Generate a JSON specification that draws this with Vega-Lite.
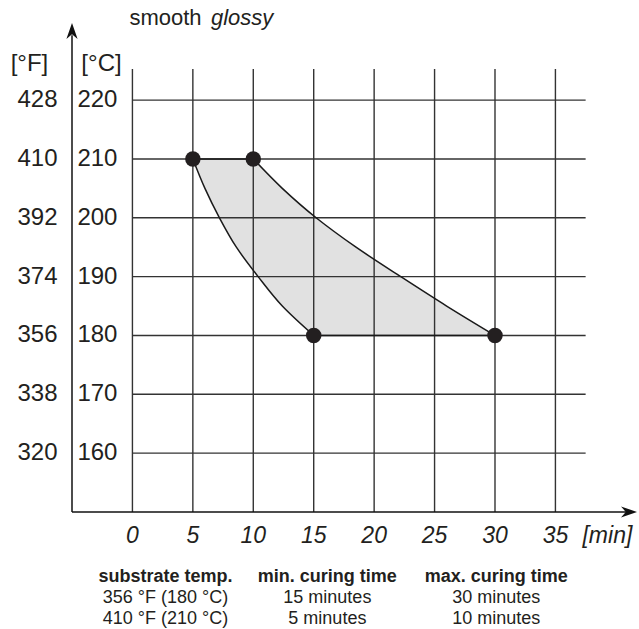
{
  "$schema": "https://vega.github.io/schema/vega-lite/v6.json",
  "width": 565,
  "height": 489,
  "autosize": {"type": "none"},
  "padding": {"left": 72, "top": 23, "right": 2, "bottom": 117},
  "background": "white",
  "config": {"view": {"stroke": null}, "font": "Liberation Sans", "text": {"font": "Liberation Sans", "color": "#231f20"}},
  "datasets": {
    "window": [
      {"temp": 210, "min_time": 5, "max_time": 10},
      {"temp": 205, "min_time": 6.0, "max_time": 12.4},
      {"temp": 200, "min_time": 7.2, "max_time": 15.2},
      {"temp": 195, "min_time": 8.6, "max_time": 18.5},
      {"temp": 190, "min_time": 10.4, "max_time": 22.2},
      {"temp": 185, "min_time": 12.4, "max_time": 26.0},
      {"temp": 180, "min_time": 15, "max_time": 30}
    ],
    "points": [
      {"minutes": 5, "temp": 210},
      {"minutes": 10, "temp": 210},
      {"minutes": 15, "temp": 180},
      {"minutes": 30, "temp": 180}
    ],
    "xticks": [
      {"minutes": 0}, {"minutes": 5}, {"minutes": 10}, {"minutes": 15},
      {"minutes": 20}, {"minutes": 25}, {"minutes": 30}, {"minutes": 35}
    ],
    "yticks": [
      {"celsius": 160, "fahrenheit": 320},
      {"celsius": 170, "fahrenheit": 338},
      {"celsius": 180, "fahrenheit": 356},
      {"celsius": 190, "fahrenheit": 374},
      {"celsius": 200, "fahrenheit": 392},
      {"celsius": 210, "fahrenheit": 410},
      {"celsius": 220, "fahrenheit": 428}
    ],
    "one": [{}]
  },
  "layer": [
    {
      "data": {"name": "window"},
      "mark": {"type": "area", "orient": "horizontal", "interpolate": "monotone", "fill": "#e1e1e1", "strokeWidth": 0},
      "encoding": {
        "y": {"field": "temp", "type": "quantitative", "scale": {"domain": [150, 233.1], "nice": false, "zero": false}, "axis": null},
        "x": {"field": "min_time", "type": "quantitative", "scale": {"domain": [-5, 41.75], "nice": false, "zero": false}, "axis": null},
        "x2": {"field": "max_time"}
      }
    },
    {
      "data": {"name": "xticks"},
      "mark": {"type": "rule", "stroke": "#333333", "strokeWidth": 1.4},
      "encoding": {
        "x": {"field": "minutes", "type": "quantitative", "scale": {"domain": [-5, 41.75], "nice": false, "zero": false}, "axis": null},
        "y": {"datum": 150, "type": "quantitative", "scale": {"domain": [150, 233.1], "nice": false, "zero": false}, "axis": null},
        "y2": {"datum": 225.3}
      }
    },
    {
      "data": {"name": "yticks"},
      "mark": {"type": "rule", "stroke": "#333333", "strokeWidth": 1.4},
      "encoding": {
        "y": {"field": "celsius", "type": "quantitative", "scale": {"domain": [150, 233.1], "nice": false, "zero": false}, "axis": null},
        "x": {"datum": 0, "type": "quantitative", "scale": {"domain": [-5, 41.75], "nice": false, "zero": false}, "axis": null},
        "x2": {"datum": 37.5}
      }
    },
    {
      "data": {"name": "window"},
      "mark": {"type": "area", "orient": "horizontal", "interpolate": "monotone", "fillOpacity": 0, "stroke": "#1a1a1a", "strokeWidth": 1.5},
      "encoding": {
        "y": {"field": "temp", "type": "quantitative", "scale": {"domain": [150, 233.1], "nice": false, "zero": false}, "axis": null},
        "x": {"field": "min_time", "type": "quantitative", "scale": {"domain": [-5, 41.75], "nice": false, "zero": false}, "axis": null},
        "x2": {"field": "max_time"}
      }
    },
    {
      "data": {"name": "one"},
      "mark": {"type": "rule", "stroke": "#111111", "strokeWidth": 1.5},
      "encoding": {
        "x": {"datum": -5, "type": "quantitative", "scale": {"domain": [-5, 41.75], "nice": false, "zero": false}, "axis": null},
        "y": {"datum": 150, "type": "quantitative", "scale": {"domain": [150, 233.1], "nice": false, "zero": false}, "axis": null},
        "y2": {"datum": 231}
      }
    },
    {
      "data": {"name": "one"},
      "mark": {"type": "rule", "stroke": "#111111", "strokeWidth": 1.5},
      "encoding": {
        "y": {"datum": 150, "type": "quantitative", "scale": {"domain": [150, 233.1], "nice": false, "zero": false}, "axis": null},
        "x": {"datum": -5, "type": "quantitative", "scale": {"domain": [-5, 41.75], "nice": false, "zero": false}, "axis": null},
        "x2": {"datum": 41}
      }
    },
    {
      "data": {"name": "one"},
      "mark": {"type": "point", "shape": "M0,0L-0.7,2L0,1.4L0.7,2Z", "filled": true, "size": 256, "color": "#111111", "opacity": 1},
      "encoding": {
        "x": {"datum": -5, "type": "quantitative", "scale": {"domain": [-5, 41.75], "nice": false, "zero": false}, "axis": null},
        "y": {"datum": 233.1, "type": "quantitative", "scale": {"domain": [150, 233.1], "nice": false, "zero": false}, "axis": null}
      }
    },
    {
      "data": {"name": "one"},
      "mark": {"type": "point", "shape": "M0,0L-0.7,2L0,1.4L0.7,2Z", "angle": 90, "filled": true, "size": 256, "color": "#111111", "opacity": 1},
      "encoding": {
        "x": {"datum": 41.75, "type": "quantitative", "scale": {"domain": [-5, 41.75], "nice": false, "zero": false}, "axis": null},
        "y": {"datum": 150, "type": "quantitative", "scale": {"domain": [150, 233.1], "nice": false, "zero": false}, "axis": null}
      }
    },
    {
      "data": {"name": "points"},
      "mark": {"type": "circle", "size": 240, "color": "#231f20", "opacity": 1},
      "encoding": {
        "x": {"field": "minutes", "type": "quantitative", "scale": {"domain": [-5, 41.75], "nice": false, "zero": false}, "axis": null},
        "y": {"field": "temp", "type": "quantitative", "scale": {"domain": [150, 233.1], "nice": false, "zero": false}, "axis": null}
      }
    },
    {
      "data": {"name": "yticks"},
      "mark": {"type": "text", "align": "right", "baseline": "middle", "fontSize": 24},
      "encoding": {
        "x": {"datum": -1.24, "type": "quantitative", "scale": {"domain": [-5, 41.75], "nice": false, "zero": false}, "axis": null},
        "y": {"field": "celsius", "type": "quantitative", "scale": {"domain": [150, 233.1], "nice": false, "zero": false}, "axis": null},
        "text": {"field": "celsius", "type": "nominal"}
      }
    },
    {
      "data": {"name": "yticks"},
      "mark": {"type": "text", "align": "right", "baseline": "middle", "fontSize": 24},
      "encoding": {
        "x": {"datum": -6.2, "type": "quantitative", "scale": {"domain": [-5, 41.75], "nice": false, "zero": false}, "axis": null},
        "y": {"field": "celsius", "type": "quantitative", "scale": {"domain": [150, 233.1], "nice": false, "zero": false}, "axis": null},
        "text": {"field": "fahrenheit", "type": "nominal"}
      }
    },
    {
      "data": {"name": "one"},
      "mark": {"type": "text", "align": "center", "baseline": "middle", "fontSize": 24, "text": "[°F]"},
      "encoding": {
        "x": {"datum": -8.52, "type": "quantitative", "scale": {"domain": [-5, 41.75], "nice": false, "zero": false}, "axis": null},
        "y": {"datum": 226.2, "type": "quantitative", "scale": {"domain": [150, 233.1], "nice": false, "zero": false}, "axis": null}
      }
    },
    {
      "data": {"name": "one"},
      "mark": {"type": "text", "align": "center", "baseline": "middle", "fontSize": 24, "text": "[°C]"},
      "encoding": {
        "x": {"datum": -2.56, "type": "quantitative", "scale": {"domain": [-5, 41.75], "nice": false, "zero": false}, "axis": null},
        "y": {"datum": 226.2, "type": "quantitative", "scale": {"domain": [150, 233.1], "nice": false, "zero": false}, "axis": null}
      }
    },
    {
      "data": {"name": "xticks"},
      "mark": {"type": "text", "align": "center", "baseline": "alphabetic", "fontSize": 23, "fontStyle": "italic"},
      "encoding": {
        "x": {"field": "minutes", "type": "quantitative", "scale": {"domain": [-5, 41.75], "nice": false, "zero": false}, "axis": null},
        "y": {"datum": 144.7, "type": "quantitative", "scale": {"domain": [150, 233.1], "nice": false, "zero": false}, "axis": null},
        "text": {"field": "minutes", "type": "nominal"}
      }
    },
    {
      "data": {"name": "one"},
      "mark": {"type": "text", "align": "center", "baseline": "alphabetic", "fontSize": 23, "fontStyle": "italic", "text": "[min]"},
      "encoding": {
        "x": {"datum": 39.3, "type": "quantitative", "scale": {"domain": [-5, 41.75], "nice": false, "zero": false}, "axis": null},
        "y": {"datum": 144.7, "type": "quantitative", "scale": {"domain": [150, 233.1], "nice": false, "zero": false}, "axis": null}
      }
    },
    {
      "data": {"name": "one"},
      "mark": {"type": "text", "align": "left", "baseline": "alphabetic", "fontSize": 22, "text": "smooth"},
      "encoding": {
        "x": {"datum": -0.25, "type": "quantitative", "scale": {"domain": [-5, 41.75], "nice": false, "zero": false}, "axis": null},
        "y": {"datum": 232.75, "type": "quantitative", "scale": {"domain": [150, 233.1], "nice": false, "zero": false}, "axis": null}
      }
    },
    {
      "data": {"name": "one"},
      "mark": {"type": "text", "align": "left", "baseline": "alphabetic", "fontSize": 22, "fontStyle": "italic", "text": "glossy"},
      "encoding": {
        "x": {"datum": 6.5, "type": "quantitative", "scale": {"domain": [-5, 41.75], "nice": false, "zero": false}, "axis": null},
        "y": {"datum": 232.75, "type": "quantitative", "scale": {"domain": [150, 233.1], "nice": false, "zero": false}, "axis": null}
      }
    },
    {
      "data": {"values": [
        {"column": 2.73, "head": "substrate temp.", "lines": ["356 °F (180 °C)", "410 °F (210 °C)"]},
        {"column": 16.13, "head": "min. curing time", "lines": ["15 minutes", "5 minutes"]},
        {"column": 30.1, "head": "max. curing time", "lines": ["30 minutes", "10 minutes"]}
      ]},
      "layer": [
        {
          "mark": {"type": "text", "align": "center", "baseline": "alphabetic", "fontSize": 18, "fontWeight": "bold"},
          "encoding": {
            "x": {"field": "column", "type": "quantitative", "scale": {"domain": [-5, 41.75], "nice": false, "zero": false}, "axis": null},
            "y": {"datum": 138.07, "type": "quantitative", "scale": {"domain": [150, 233.1], "nice": false, "zero": false}, "axis": null},
            "text": {"field": "head", "type": "nominal"}
          }
        },
        {
          "mark": {"type": "text", "align": "center", "baseline": "alphabetic", "fontSize": 18, "lineHeight": 21},
          "encoding": {
            "x": {"field": "column", "type": "quantitative", "scale": {"domain": [-5, 41.75], "nice": false, "zero": false}, "axis": null},
            "y": {"datum": 134.5, "type": "quantitative", "scale": {"domain": [150, 233.1], "nice": false, "zero": false}, "axis": null},
            "text": {"field": "lines", "type": "nominal"}
          }
        }
      ]
    }
  ]
}
